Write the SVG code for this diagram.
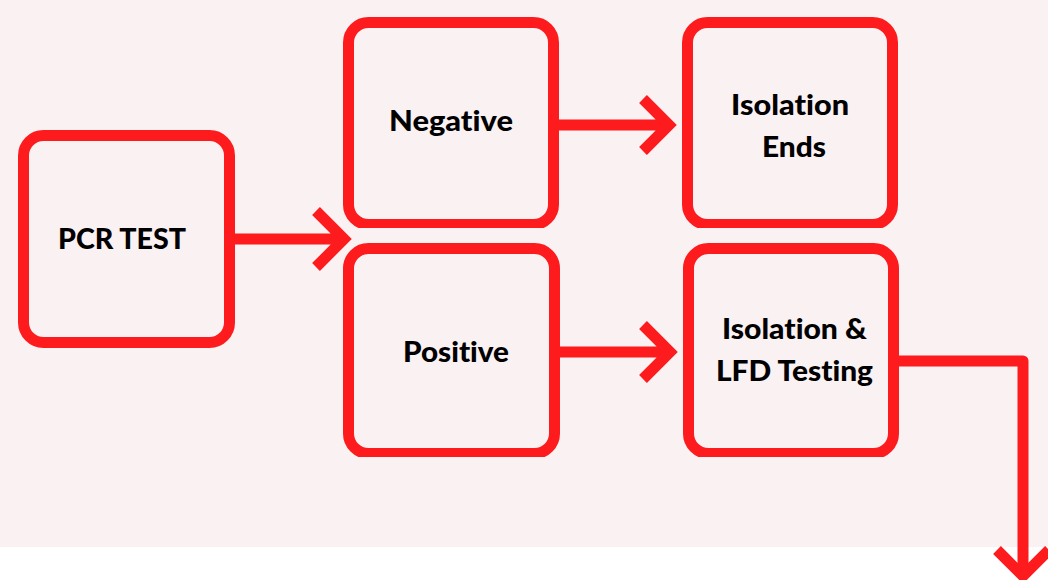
<svg xmlns="http://www.w3.org/2000/svg" width="1048" height="580" viewBox="0 0 1048 580">
<style>
.box{fill:#faf1f2;stroke:#fe1b1e;stroke-width:11}
.con{fill:none;stroke:#fe1b1e;stroke-width:11;stroke-linecap:butt;stroke-linejoin:miter}
.lbl{font-family:Lato,"Liberation Sans",sans-serif;font-weight:900;font-size:28px;fill:#000;text-anchor:middle;font-variant-ligatures:none}
</style>
<defs>
<clipPath id="topRow"><rect x="0" y="0" width="1048" height="228"/></clipPath>
<clipPath id="botRow"><rect x="0" y="236" width="1048" height="221"/></clipPath>
</defs>
<rect x="0" y="0" width="1048" height="547" fill="#faf1f2"/>
<rect x="0" y="547" width="1048" height="33" fill="#ffffff"/>
<g id="pcr">
<rect class="box" x="23.5" y="135.5" width="206" height="207" rx="20"/>
<text class="lbl" x="122" y="249" textLength="128" lengthAdjust="spacingAndGlyphs">PCR TEST</text>
</g>
<g id="negative">
<rect class="box" x="348.5" y="22.5" width="205" height="202" rx="20" clip-path="url(#topRow)"/>
<text class="lbl" x="451" y="131" textLength="124" lengthAdjust="spacingAndGlyphs">Negative</text>
</g>
<g id="isolation-ends">
<rect class="box" x="687.5" y="22.5" width="205" height="202" rx="20" clip-path="url(#topRow)"/>
<text class="lbl" x="790" y="115" textLength="118" lengthAdjust="spacingAndGlyphs">Isolation</text>
<text class="lbl" x="794" y="157" textLength="64" lengthAdjust="spacingAndGlyphs">Ends</text>
</g>
<g id="positive">
<rect class="box" x="348.5" y="248.5" width="206" height="205" rx="20" clip-path="url(#botRow)"/>
<text class="lbl" x="456" y="362" textLength="106" lengthAdjust="spacingAndGlyphs">Positive</text>
</g>
<g id="isolation-lfd">
<rect class="box" x="688.5" y="248.5" width="205" height="205" rx="20" clip-path="url(#botRow)"/>
<text class="lbl" x="794.5" y="339" textLength="145" lengthAdjust="spacingAndGlyphs">Isolation &amp;</text>
<text class="lbl" x="794.5" y="381" textLength="157" lengthAdjust="spacingAndGlyphs">LFD Testing</text>
</g>
<g id="connectors">
<path class="con" d="M235 239 H344 M316 211 L344 239 L316 267"/>
<path class="con" d="M559 125 H669 M643 99 L669 125 L643 151"/>
<path class="con" d="M560 352 H670 M643 325 L670 352 L643 379"/>
<path class="con" d="M899 361 H1023 V576" style="stroke-linejoin:round"/>
<path class="con" d="M997 550 L1023 576 L1049 550"/>
</g>
</svg>
